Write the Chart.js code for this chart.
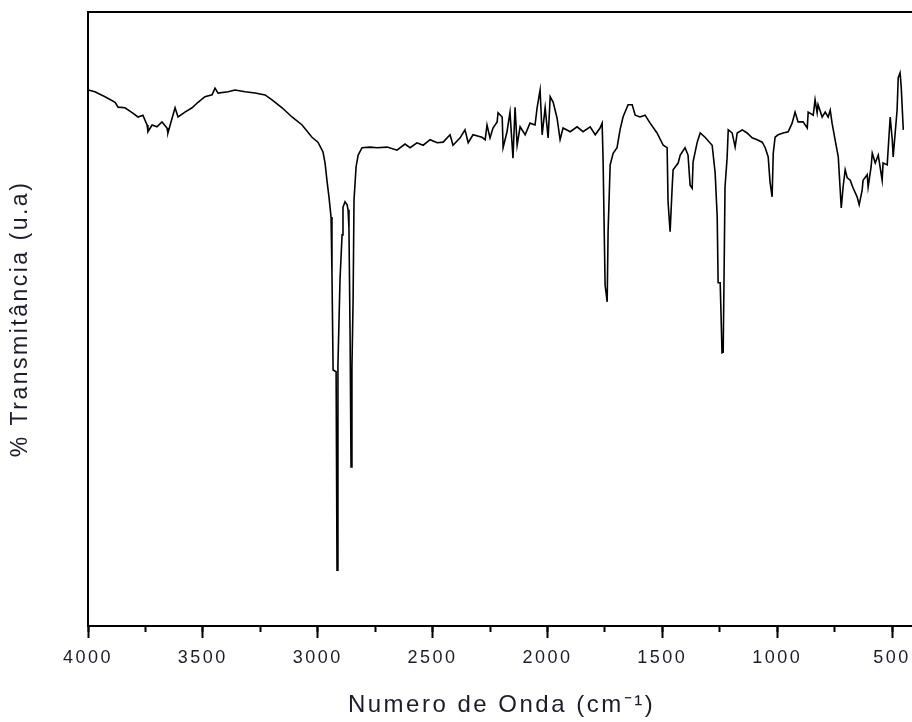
<!DOCTYPE html>
<html>
<head>
<meta charset="utf-8">
<script src="https://cdn.jsdelivr.net/npm/chart.js@4"></script>
<style>
  html, body { margin: 0; padding: 0; background: #fff; overflow: hidden; }
  #wrap { width: 912px; height: 722px; overflow: hidden; }
  canvas { display: block; }
</style>
</head>
<body>
<div id="wrap"><canvas id="ir" width="940" height="722"></canvas></div>
<script>
// IR spectrum (cm-1 vs % transmittance, arbitrary units)
var wavenumbers = [
  3999, 3970, 3926, 3882, 3869, 3839, 3808, 3782, 3761, 3743, 3739, 3721, 3700, 3678, 3656, 3652, 3634, 3621, 3608, 3578,
  3547, 3521, 3491, 3460, 3447, 3434, 3390, 3360, 3316, 3273, 3229, 3199, 3155, 3112, 3068, 3025, 2999, 2977,
  2968, 2959, 2951, 2942, 2938, 2933, 2920, 2916, 2912, 2903, 2894, 2890, 2881, 2872, 2868, 2864, 2859, 2855, 2851, 2846,
  2842, 2833, 2824, 2807,
  2772, 2742, 2698, 2655, 2620, 2598, 2568, 2541, 2511, 2480, 2454, 2424, 2411, 2380, 2359, 2345, 2324, 2285, 2271, 2263,
  2250, 2237, 2219, 2215, 2197, 2193, 2176, 2163, 2150, 2141, 2132, 2119, 2097, 2076, 2054, 2045, 2032, 2023, 2010, 1997,
  1988, 1975, 1958, 1945, 1932, 1901, 1871, 1845, 1814, 1792, 1771, 1762, 1758, 1749, 1740, 1736, 1727, 1714, 1697, 1684,
  1671, 1649, 1631, 1618, 1597, 1575, 1553, 1523, 1496, 1479, 1475, 1466, 1457, 1453, 1431, 1422, 1401, 1388, 1379, 1370,
  1366, 1348, 1335, 1314, 1283, 1270, 1261, 1257, 1248, 1240, 1235, 1231, 1227, 1218, 1213, 1196, 1183, 1174, 1152, 1131,
  1109, 1087, 1065, 1052, 1039, 1031, 1022, 1017, 1009, 996, 974, 952, 935, 922, 909, 887, 869, 865, 843, 835,
  826, 822, 804, 791, 778, 769, 761, 748, 734, 726, 721, 713, 704, 695, 682, 669, 652, 643, 630, 626,
  608, 604, 591, 586, 573, 560, 543, 539, 521, 508, 499, 495, 478, 473, 465, 460, 451
];
var transmittance = [
  87.3, 87.0, 86.2, 85.3, 84.5, 84.4, 83.6, 82.9, 83.2, 81.6, 80.5, 81.6, 81.3, 82.1, 81.1, 80.3, 82.7, 84.4, 82.9, 83.7,
  84.4, 85.3, 86.2, 86.5, 87.6, 86.8, 87.0, 87.3, 87.0, 86.8, 86.5, 85.7, 84.4, 82.9, 81.6, 79.6, 78.8, 77.2,
  75.4, 72.3, 69.9, 66.6, 57.5, 41.7, 41.4, 9.1, 42.5, 56.4, 63.7, 68.2, 69.1, 68.6, 67.8, 64.8, 46.9, 25.9, 42.2, 53.1,
  69.4, 74.8, 76.7, 77.9,
  78.0, 77.9, 78.0, 77.5, 78.5, 77.9, 78.7, 78.3, 79.2, 78.7, 78.8, 80.0, 78.3, 79.5, 80.8, 78.7, 80.0, 79.6, 79.2, 81.6,
  79.5, 81.1, 82.1, 83.6, 82.9, 77.9, 80.5, 83.7, 76.2, 84.5, 78.3, 81.3, 80.0, 81.9, 81.6, 84.4, 87.3, 80.0, 84.4, 79.5,
  86.2, 85.3, 82.7, 79.2, 81.1, 80.5, 81.3, 80.5, 81.3, 80.0, 81.1, 81.9, 76.4, 55.5, 52.8, 64.2, 75.1, 77.0, 77.9, 80.8,
  82.9, 84.9, 84.9, 83.2, 82.9, 83.2, 81.9, 80.3, 78.3, 77.9, 69.1, 64.2, 71.5, 74.3, 75.4, 76.7, 77.9, 76.7, 71.8, 71.3,
  75.6, 78.8, 80.3, 79.6, 78.3, 73.8, 66.6, 55.9, 55.9, 44.5, 44.6, 57.7, 71.5, 76.2, 80.8, 80.3, 78.0, 80.3, 80.8, 80.3,
  79.5, 79.2, 78.8, 77.9, 76.4, 72.3, 69.9, 77.0, 79.6, 80.0, 80.3, 80.5, 81.9, 83.7, 82.1, 82.1, 81.1, 83.7, 83.2, 85.7,
  83.6, 84.9, 82.9, 83.7, 82.9, 84.0, 81.9, 79.2, 76.4, 71.3, 68.1, 71.5, 74.3, 73.0, 72.6, 71.3, 69.9, 68.6, 71.0, 72.6,
  73.5, 71.5, 74.8, 77.0, 75.4, 76.7, 72.6, 75.4, 75.1, 82.9, 79.2, 76.4, 84.0, 89.3, 90.1, 87.8, 80.8
];
var xMin = 400, xMax = 4000;
var majorTicks = [4000, 3500, 3000, 2500, 2000, 1500, 1000, 500];
var minorTicks = [4000, 3750, 3500, 3250, 3000, 2750, 2500, 2250, 2000, 1750, 1500, 1250, 1000, 750, 500];
var xTitle = 'Numero de Onda (cm\u207B\u00B9)';
var yTitle = '% Transmit\u00E2ncia (u.a)';

var points = wavenumbers.map(function(w, i) { return { x: w, y: transmittance[i] }; });

var FONT = "'Liberation Sans', Arial, sans-serif";
var TEXT = '#1c1c2c';

function fixedTicks(values) {
  return function(scale) {
    scale.ticks = values.map(function(v) { return { value: v }; });
  };
}

// Origin-style letter spacing on all axis text
var spacing = {
  id: 'spacing',
  beforeLayout: function(chart) { chart.ctx.letterSpacing = '2.5px'; },
  beforeDraw: function(chart) { chart.ctx.letterSpacing = '2.5px'; }
};

new Chart(document.getElementById('ir'), {
  type: 'scatter',
  data: {
    datasets: [{
      data: points,
      showLine: true,
      borderColor: '#000',
      borderWidth: 1.6,
      pointRadius: 0,
      tension: 0,
      xAxisID: 'x',
      yAxisID: 'y'
    }]
  },
  options: {
    responsive: false,
    animation: false,
    events: [],
    layout: { padding: { top: 12, right: 25, bottom: 0, left: 0 } },
    plugins: { legend: { display: false }, tooltip: { enabled: false } },
    scales: {
      x: {
        type: 'linear', position: 'bottom', weight: 1,
        reverse: true, min: xMin, max: xMax,
        border: { display: true, color: '#000', width: 2 },
        grid: { display: true, drawOnChartArea: false, drawTicks: true, tickLength: 12, tickColor: '#000', tickWidth: 2 },
        afterBuildTicks: fixedTicks(majorTicks),
        ticks: {
          autoSkip: false, maxRotation: 0,
          padding: 9, color: TEXT, font: { family: FONT, size: 18 },
          callback: function(v) { return String(v); }
        },
        title: {
          display: true, text: xTitle, color: TEXT,
          font: { family: FONT, size: 24 }, padding: { top: 0, bottom: 2 }
        },
        afterFit: function(s) { s.height = 96; }
      },
      xMinor: {
        type: 'linear', position: 'bottom', weight: 0,
        reverse: true, min: xMin, max: xMax,
        border: { display: false },
        grid: { display: true, drawOnChartArea: false, drawTicks: true, tickLength: 6, tickColor: '#000', tickWidth: 2 },
        afterBuildTicks: fixedTicks(minorTicks),
        ticks: { autoSkip: false, display: false },
        afterFit: function(s) { s.height = 0; }
      },
      xTop: {
        type: 'linear', position: 'top',
        border: { display: true, color: '#000', width: 2 },
        grid: { display: false },
        ticks: { display: false },
        afterFit: function(s) { s.height = 0; }
      },
      y: {
        type: 'linear', position: 'left', min: 0, max: 100,
        border: { display: true, color: '#000', width: 2 },
        grid: { display: false },
        ticks: { display: false },
        title: {
          display: true, text: yTitle, color: TEXT,
          font: { family: FONT, size: 23 }, padding: { top: 7, bottom: 0 }
        },
        afterFit: function(s) { s.width = 88; }
      }
    }
  },
  plugins: [spacing]
});
</script>
</body>
</html>
